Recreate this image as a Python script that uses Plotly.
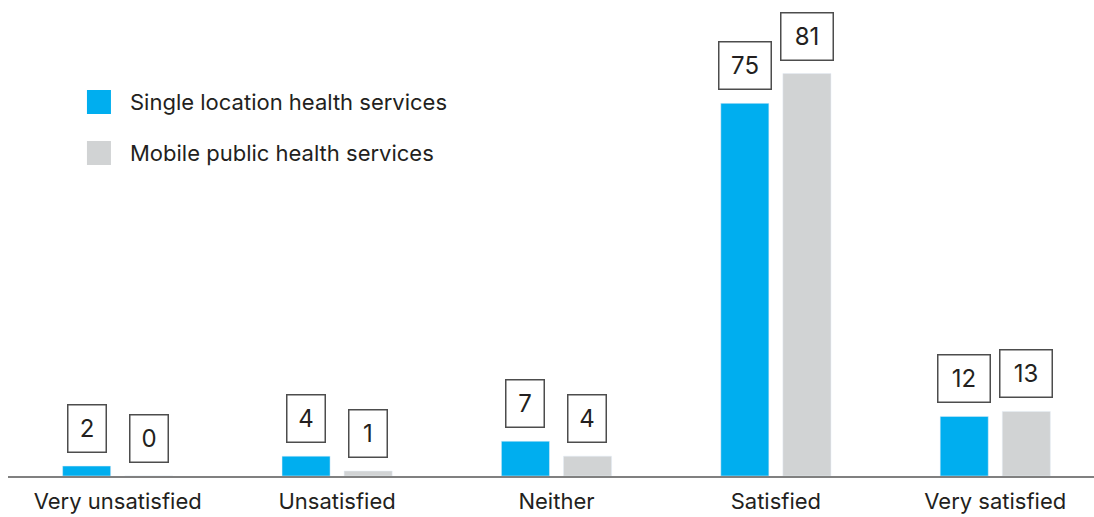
import plotly.graph_objects as go

categories = ["Very unsatisfied", "Unsatisfied", "Neither", "Satisfied", "Very satisfied"]
single_location = [2, 4, 7, 75, 12]
mobile_public = [0, 1, 4, 81, 13]
series_names = ["Single location health services", "Mobile public health services"]

BLUE = "#00AEEF"
GRAY = "#D1D3D4"
TEXT = "#231F20"
FONT = "Inter"

fig = go.Figure()
fig.add_trace(go.Bar(name=series_names[0], x=categories, y=single_location,
                     marker_color=BLUE, showlegend=False))
fig.add_trace(go.Bar(name=series_names[1], x=categories, y=mobile_public,
                     marker_color=GRAY, showlegend=False))

# boxed value labels above each bar
annotations = []
for vals, shift in [(single_location, -31), (mobile_public, 31)]:
    for cat, v in zip(categories, vals):
        label = str(v)
        annotations.append(dict(
            x=cat, y=v, text=label, showarrow=False,
            xanchor="center", yanchor="bottom", xshift=shift, yshift=13,
            width=23 if len(label) == 1 else 37, height=32,
            bordercolor="#4D4D4D", borderwidth=1.5, borderpad=7,
            bgcolor="white", font=dict(family=FONT, size=24, color=TEXT)))

# legend drawn by hand so the swatches can be large
shapes = []
for (y0, y1, col, yt), name in zip([(0.7669, 0.8178, BLUE, 0.7924),
                                    (0.6589, 0.7097, GRAY, 0.6843)], series_names):
    shapes.append(dict(type="rect", xref="paper", yref="paper",
                       x0=0.0727, x1=0.0948, y0=y0, y1=y1,
                       fillcolor=col, line_width=0))
    annotations.append(dict(xref="paper", yref="paper", x=0.1105, y=yt,
                            text=name, showarrow=False, xanchor="left", yanchor="middle",
                            font=dict(family=FONT, size=22, color=TEXT)))

fig.update_layout(
    width=1094, height=517,
    margin=dict(l=8, r=0, t=4, b=41),
    plot_bgcolor="white", paper_bgcolor="white",
    barmode="group", bargap=0.434, bargroupgap=0.226,
    annotations=annotations, shapes=shapes,
    font=dict(family=FONT, color=TEXT),
)
fig.update_xaxes(range=[-0.5, 4.45], showline=True, linecolor="#808080", linewidth=1.5,
                 ticks="", ticklabelstandoff=5, automargin=False,
                 tickfont=dict(family=FONT, size=22, color=TEXT), showgrid=False)
fig.update_yaxes(range=[0, 95], visible=False, showgrid=False, zeroline=False)

fig.write_html("out.html", config={"displayModeBar": False},
               post_script="document.body.style.margin='0';")
